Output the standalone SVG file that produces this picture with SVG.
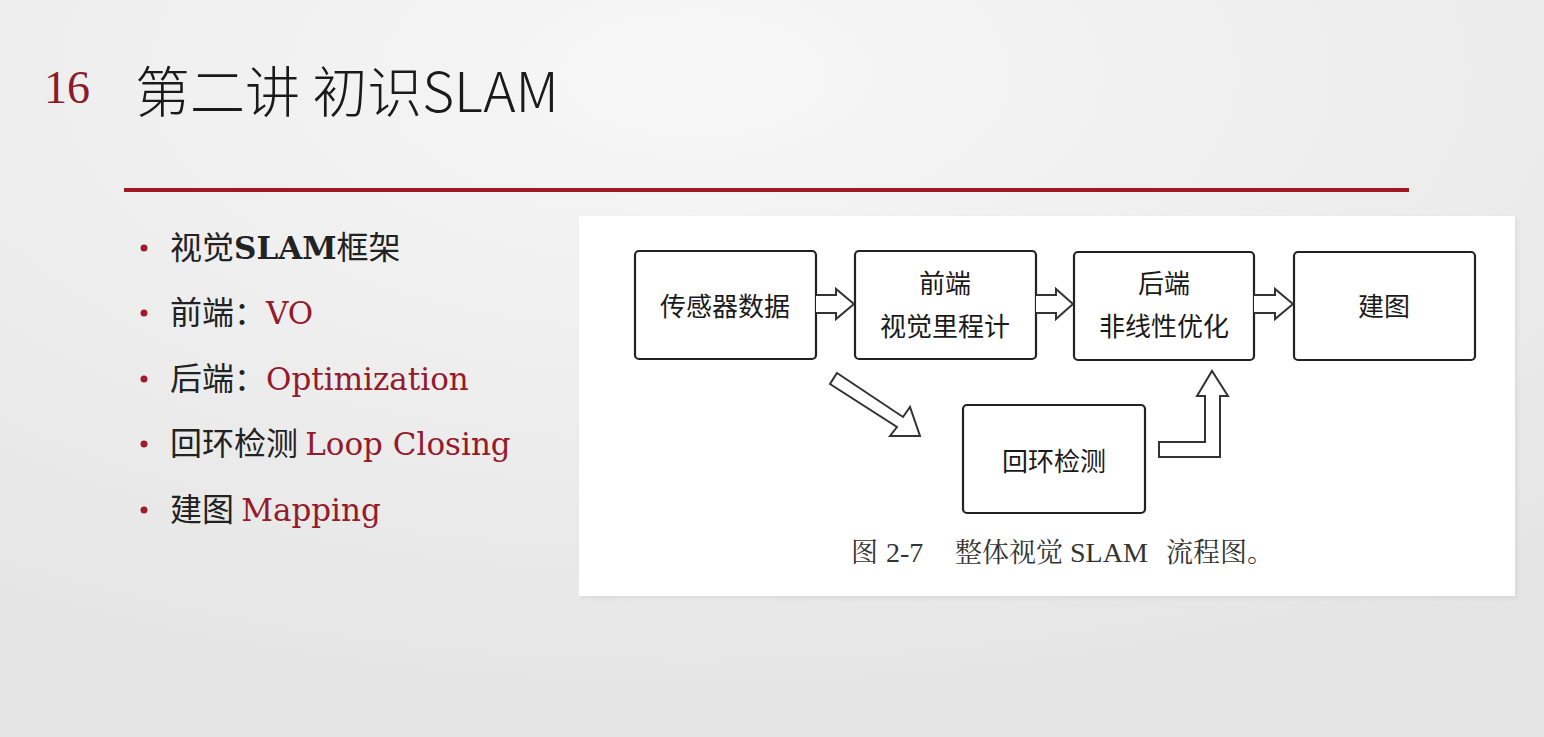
<svg xmlns="http://www.w3.org/2000/svg" width="1544" height="737" viewBox="0 0 1544 737">
  <defs>
    <radialGradient id="bg" cx="0.45" cy="0.1" r="0.9">
      <stop offset="0" stop-color="#f7f7f7"/>
      <stop offset="1" stop-color="#e4e4e4"/>
    </radialGradient>
    <filter id="soft" x="-5%" y="-5%" width="110%" height="110%">
      <feGaussianBlur stdDeviation="2"/>
    </filter>
    <style>
      .title { font-family: "Noto Sans CJK SC", "Noto Sans", sans-serif; font-weight: 300; fill: #1a1a1a; }
      .num { font-family: "Liberation Serif", serif; fill: #8b1a2b; }
      .bullet { font-family: "Noto Sans CJK SC", sans-serif; font-size: 32px; fill: #222; }
      .latin { font-family: "DejaVu Serif", "Liberation Serif", serif; font-size: 31px; }
      .accent { fill: #931b2c; }
      .dot { fill: #a01c2c; }
      .box { fill: #ffffff; stroke: #222; stroke-width: 2.2; }
      .lbl { font-family: "Noto Sans CJK SC", sans-serif; font-size: 26px; fill: #1a1a1a; text-anchor: middle; }
      .arrow { fill: #ffffff; stroke: #333; stroke-width: 2; stroke-linejoin: miter; }
      .cap { font-family: "Noto Serif CJK SC", "Liberation Serif", "Noto Sans CJK SC", serif; font-size: 27px; fill: #333; }
      .capl { font-family: "Liberation Serif", serif; font-size: 28px; fill: #333; }
    </style>
  </defs>

  <!-- slide background -->
  <rect width="1544" height="737" fill="url(#bg)"/>

  <!-- heading -->
  <text class="num" x="44" y="103" font-size="46">16</text>
  <text class="title" x="135" y="112" font-size="55">第二讲 初识SLAM</text>
  <rect x="124" y="188" width="1285" height="4" fill="#a01822"/>

  <!-- bullet list -->
  <g id="bullets">
    <circle class="dot" cx="144" cy="248" r="3.5"/>
    <text class="bullet" x="170" y="259">视觉<tspan class="latin" font-weight="bold" font-size="30">SLAM</tspan>框架</text>
    <circle class="dot" cx="144" cy="313" r="3.5"/>
    <text class="bullet" x="170" y="324">前端：<tspan class="latin accent">VO</tspan></text>
    <circle class="dot" cx="144" cy="379" r="3.5"/>
    <text class="bullet" x="170" y="390">后端：<tspan class="latin accent">Optimization</tspan></text>
    <circle class="dot" cx="144" cy="444" r="3.5"/>
    <text class="bullet" x="170" y="455">回环检测 <tspan class="latin accent">Loop Closing</tspan></text>
    <circle class="dot" cx="144" cy="510" r="3.5"/>
    <text class="bullet" x="170" y="521">建图 <tspan class="latin accent">Mapping</tspan></text>
  </g>

  <!-- figure panel -->
  <rect x="581" y="218" width="936" height="380" fill="#000" opacity="0.06" filter="url(#soft)"/>
  <rect x="579" y="216" width="936" height="380" fill="#ffffff"/>

  <g id="sensor">
    <rect class="box" x="635" y="251" width="181" height="108" rx="4"/>
    <text class="lbl" x="725" y="316">传感器数据</text>
  </g>
  <g id="frontend">
    <rect class="box" x="855" y="251" width="181" height="108" rx="4"/>
    <text class="lbl" x="945" y="293">前端</text>
    <text class="lbl" x="945" y="336">视觉里程计</text>
  </g>
  <g id="backend">
    <rect class="box" x="1074" y="252" width="180" height="108" rx="4"/>
    <text class="lbl" x="1164" y="293">后端</text>
    <text class="lbl" x="1164" y="336">非线性优化</text>
  </g>
  <g id="mapping">
    <rect class="box" x="1294" y="252" width="181" height="108" rx="4"/>
    <text class="lbl" x="1384" y="316">建图</text>
  </g>
  <g id="loop">
    <rect class="box" x="963" y="405" width="182" height="108" rx="4"/>
    <text class="lbl" x="1054" y="471">回环检测</text>
  </g>

  <g id="connectors">
    <!-- sensor -> frontend -->
    <path class="arrow" d="M816,295 H836 V289 L854,304 L836,319 V313 H816"/>
    <!-- frontend -> backend -->
    <path class="arrow" d="M1036,295 H1056 V289 L1073,304 L1056,319 V313 H1036"/>
    <!-- backend -> mapping -->
    <path class="arrow" d="M1254,295 H1275 V289 L1293,304 L1275,319 V313 H1254"/>
    <!-- frontend -> loop closing (diagonal) -->
    <path class="arrow" d="M837,373 L903,417 L910,407 L920,436 L890,436 L897,427 L830,384 Z"/>
    <!-- loop closing -> backend (elbow) -->
    <path class="arrow" d="M1159,442 H1205 V396 H1197 L1212,371 L1228,396 H1220 V457 H1159 Z"/>
  </g>

  <!-- figure caption -->
  <g id="caption">
    <text class="cap" x="851" y="562">图</text>
    <text class="capl" x="886" y="562">2-7</text>
    <text class="cap" x="955" y="562">整体视觉</text>
    <text class="capl" x="1070" y="562">SLAM</text>
    <text class="cap" x="1166" y="562">流程图。</text>
  </g>
</svg>
